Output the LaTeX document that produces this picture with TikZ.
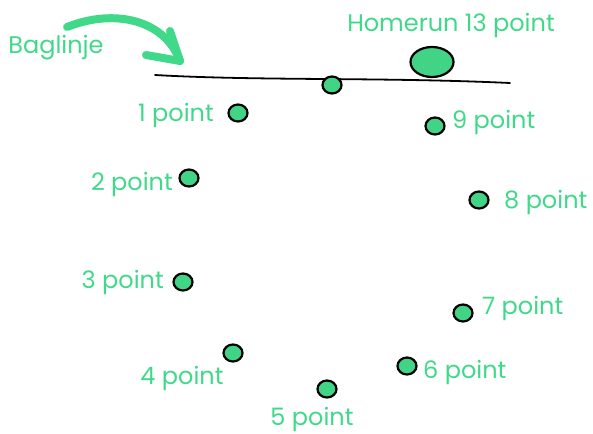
\documentclass[tikz,border=0pt]{standalone}
\usepackage{fontspec}
\setmainfont{Poppins}
\usetikzlibrary{shapes.geometric}
\definecolor{exgreen}{RGB}{64,217,137}
\definecolor{dotgreen}{RGB}{65,212,135}
\tikzset{
  lbl/.style={text=exgreen, font=\fontsize{24}{28}\selectfont, inner sep=0pt},
  dot/.style={ellipse, draw=black, line width=2.2pt, fill=dotgreen, minimum width=19pt, minimum height=17pt, inner sep=0pt},
  bigdot/.style={dot, minimum width=43pt, minimum height=30pt},
}
\begin{document}
\begin{tikzpicture}[x=1pt,y=-1pt]
\useasboundingbox (0,0) rectangle (593,433);
% baseline
\coordinate (bl0) at (155,75);
\coordinate (bl1) at (510,83);
\draw[line width=1.8pt, line cap=round] (bl0) .. controls (260,81) and (380,77) .. (bl1);
% arrow
\coordinate (a0) at (67,27);
\coordinate (tip) at (180,61);
\coordinate (b1) at (170,31);
\coordinate (b2) at (146,55);
\draw[exgreen, line width=8pt, line cap=round, line join=round] (a0) .. controls (115,8) and (165,20) .. (tip);
\draw[exgreen, line width=8pt, line cap=round, line join=round] (b1) -- (tip) -- (b2);
% texts
\node[lbl] (baglinje) at (56,48) {Baglinje};
\node[lbl] (homerun) at (451,25) {Homerun 13 point};
% dots
\node[dot] (dline) at (332,85) {};
\node[bigdot] (dhome) at (432,62) {};
\node[dot] (d1) at (238,113) {};
\node[dot] (d9) at (435,126) {};
\node[dot] (d2) at (189,178) {};
\node[dot] (d8) at (479,200) {};
\node[dot] (d3) at (183,282) {};
\node[dot] (d7) at (463,313) {};
\node[dot] (d4) at (233,353) {};
\node[dot] (d6) at (407,366) {};
\node[dot] (d5) at (327,389) {};
% point labels
\node[lbl, anchor=east] (t1) at (214,115) {1 point};
\node[lbl, anchor=west] (t9) at (452,122) {9 point};
\node[lbl, anchor=east] (t2) at (173,184) {2 point};
\node[lbl, anchor=west] (t8) at (504,202) {8 point};
\node[lbl, anchor=east] (t3) at (164,282) {3 point};
\node[lbl, anchor=west] (t7) at (482,308) {7 point};
\node[lbl] (t4) at (182,378) {4 point};
\node[lbl, anchor=west] (t6) at (423,372) {6 point};
\node[lbl] (t5) at (312,419) {5 point};
\end{tikzpicture}
\end{document}
